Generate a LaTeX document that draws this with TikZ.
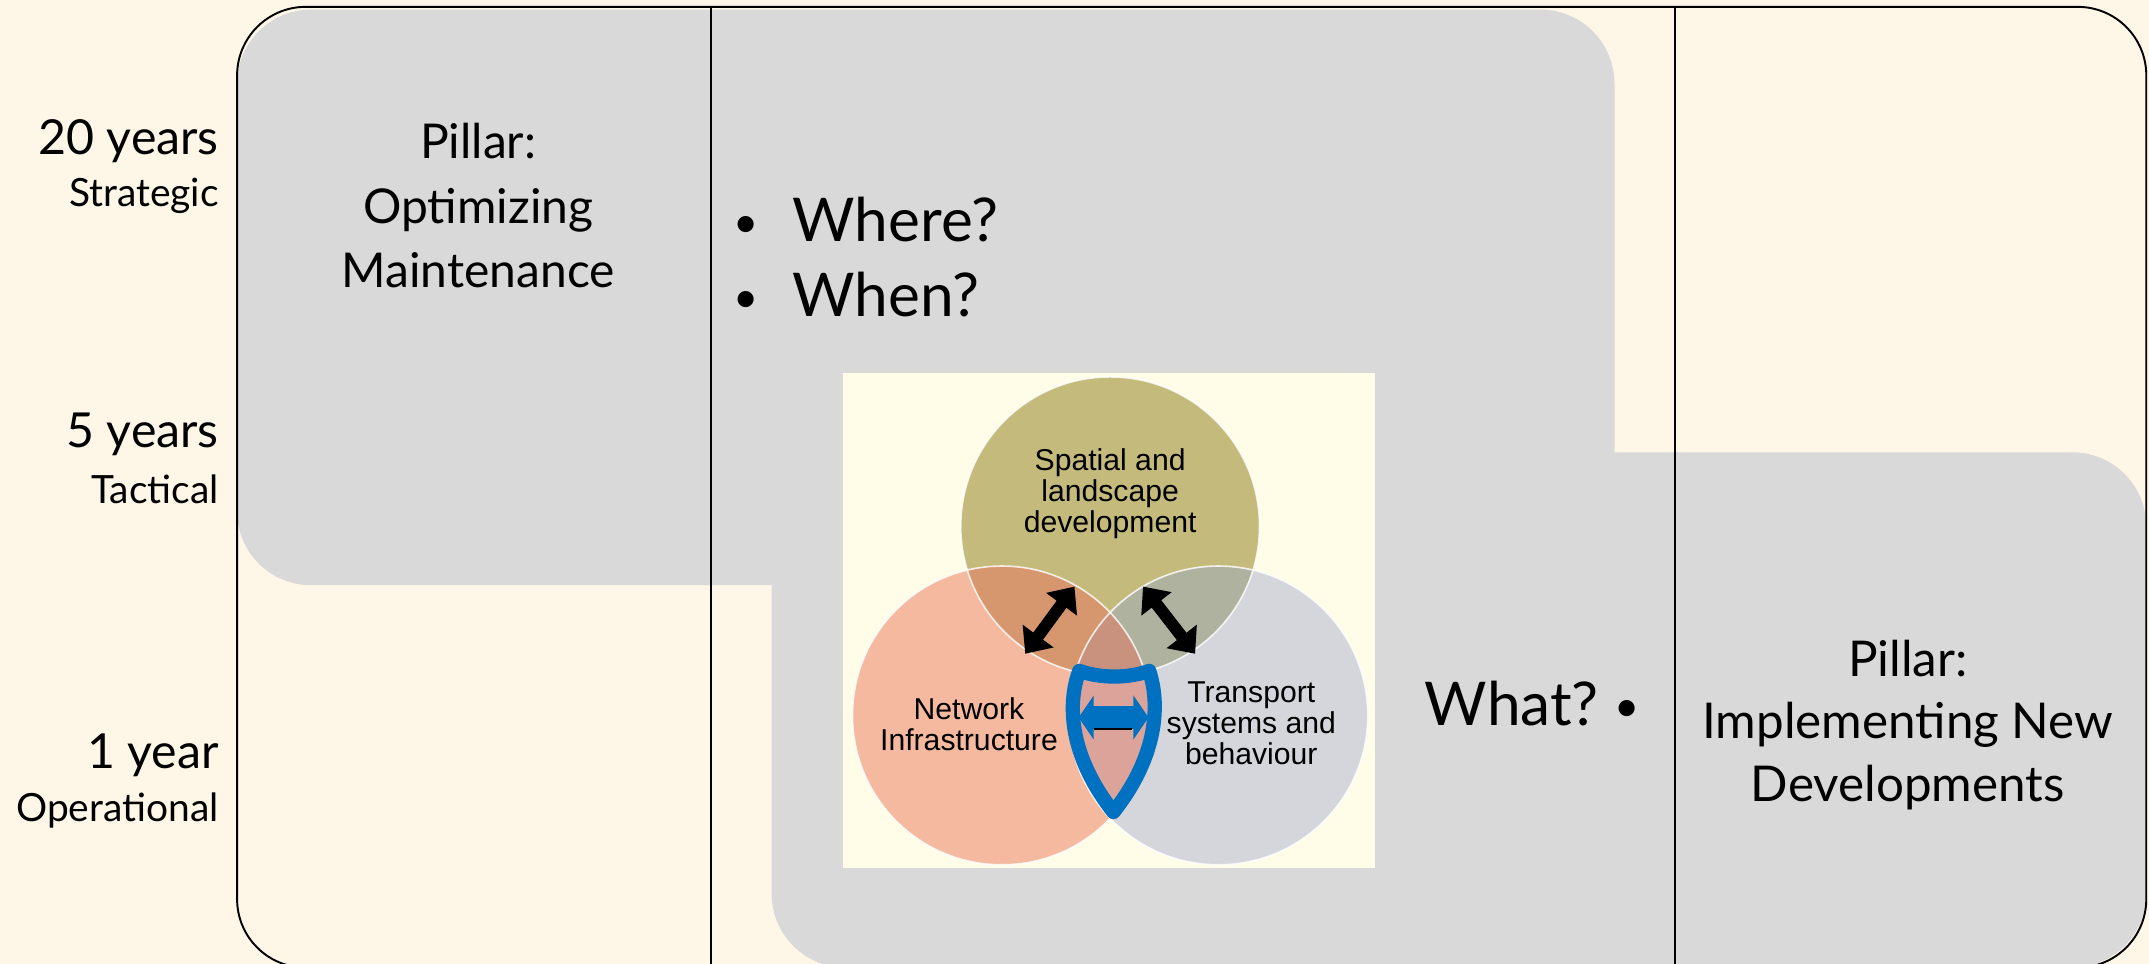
\documentclass[tikz,border=0pt]{standalone}
\usepackage{fontspec}
\setmainfont{Lato}
\newfontfamily\venntext{Liberation Sans}
\usetikzlibrary{arrows.meta}

\definecolor{slidebg}{RGB}{254,246,230}
\definecolor{pillargray}{RGB}{217,217,217}
\definecolor{vennbg}{RGB}{255,253,232}
\definecolor{spatialc}{RGB}{196,186,124}
\definecolor{networkc}{RGB}{245,185,160}
\definecolor{transportc}{RGB}{213,214,220}
\definecolor{sncol}{RGB}{214,150,110}
\definecolor{stcol}{RGB}{174,178,158}
\definecolor{ntcol}{RGB}{220,163,155}
\definecolor{allcol}{RGB}{200,146,126}
\definecolor{shieldblue}{RGB}{0,112,192}

\newcommand{\smallbullet}{\raisebox{0.12ex}{\scalebox{0.72}{\textbullet}}}

\begin{document}
\begin{tikzpicture}[x=0.5pt, y=-0.5pt]
	\tikzstyle{horizon}    = [anchor=east, inner sep=0pt, font=\fontsize{17.6}{20}\selectfont]
	\tikzstyle{level}      = [anchor=east, inner sep=0pt, font=\fontsize{14.2}{16}\selectfont]
	\tikzstyle{pillar}     = [align=center, inner sep=0pt, font=\fontsize{17.5}{23.5}\selectfont]
	\tikzstyle{question}   = [inner sep=0pt, font=\fontsize{22}{26}\selectfont]
	\tikzstyle{circlabel}  = [align=center, inner sep=0pt, font=\venntext\fontsize{11}{11.3}\selectfont]
	\tikzstyle{blockarrow} = [line width=4.4pt, {Triangle[length=8pt, width=13.5pt]}-{Triangle[length=8pt, width=13.5pt]}]
	\tikzstyle{linkarrow}  = [shieldblue, line width=8.4pt, {Triangle[length=5.5pt, width=15.8pt]}-{Triangle[length=5.5pt, width=15.8pt]}]

	\useasboundingbox (0,0) rectangle (1568,703);
	\fill[slidebg] (0,0) rectangle (1568,703);

	% grey pillars
	\fill[pillargray, rounded corners=27pt] (173,7) rectangle (1178,427);
	\fill[pillargray, rounded corners=27pt] (563,330) rectangle (1566,706);

	% frame and columns
	\draw[line width=0.7pt, rounded corners=25pt] (173,5) rectangle (1566,706);
	\foreach \x in {519, 1222}
		\draw[line width=0.7pt] (\x,5) -- (\x,706);

	% time horizons
	\foreach \name/\yrs/\kind/\y in {strat/20 years/Strategic/103, tact/5 years/Tactical/317, oper/1 year/Operational/551} {
		\node[horizon] (\name) at (160,\y) {\yrs};
		\node[level] (\name-kind) at (160,\y+40) {\kind};
	}

	\node[pillar] (maintain) at (349,150) {Pillar:\\Optimizing\\Maintenance};
	\node[pillar, font=\fontsize{18}{22.75}\selectfont] (develop) at (1392,529) {Pillar:\\Implementing New\\Developments};

	\node[question, anchor=west] (where) at (535,160) {\makebox[21.5pt][l]{\smallbullet}Where?};
	\node[question, anchor=west] (when) at (535,215) {\makebox[21.5pt][l]{\smallbullet}When?};
	\node[question, anchor=east] (what) at (1197,513) {What?\makebox[15pt][r]{\smallbullet}};

	% venn picture
	\fill[vennbg] (615,272) rectangle (1003,633);
	\coordinate (c-s) at (810,384);
	\coordinate (c-n) at (731,522);
	\coordinate (c-t) at (889,522);
	\foreach \p/\c in {c-s/spatialc, c-n/networkc, c-t/transportc}
		\fill[\c] (\p) circle (109);
	\foreach \a/\b/\c in {c-s/c-n/sncol, c-s/c-t/stcol, c-n/c-t/ntcol} {
		\begin{scope}
			\clip (\a) circle (109);
			\fill[\c] (\b) circle (109);
		\end{scope}
	}
	\begin{scope}
		\clip (c-s) circle (109);
		\clip (c-n) circle (109);
		\fill[allcol] (c-t) circle (109);
	\end{scope}
	\foreach \p in {c-s, c-n, c-t}
		\draw[white, line width=0.6pt, opacity=0.8] (\p) circle (109);

	\node[circlabel] (spatial) at (810,360) {Spatial and\\landscape\\development};
	\node[circlabel] (network) at (707,528.5) {Network\\Infrastructure};
	\node[circlabel] (transport) at (913,527.5) {Transport\\systems and\\behaviour};

	\coordinate (sn-a) at (748,477);
	\coordinate (sn-b) at (784,428);
	\coordinate (st-a) at (834,428);
	\coordinate (st-b) at (872,477);
	\foreach \from/\to in {sn-a/sn-b, st-a/st-b}
		\draw[blockarrow] (\from) -- (\to);

	% shield with link arrow
	\coordinate (sh-tl) at (787.5,489.5);
	\coordinate (sh-tr) at (838.5,489.5);
	\coordinate (sh-bot) at (812.4,592.5);
	\filldraw[fill=ntcol, draw=shieldblue, line width=5.2pt, line join=round]
		(sh-tl) .. controls (803,495) and (823,495) .. (sh-tr)
		.. controls (846,512) and (846,550) .. (sh-bot)
		.. controls (779,550) and (779,512) .. (sh-tl) -- cycle;
	\coordinate (lk-a) at (787,523.5);
	\coordinate (lk-b) at (838,523.5);
	\draw[linkarrow] (lk-a) -- (lk-b);
	\coordinate (lk-c) at (798,532);
	\coordinate (lk-d) at (826,532);
	\draw[line width=0.5pt] (lk-c) -- (lk-d);
\end{tikzpicture}
\end{document}
